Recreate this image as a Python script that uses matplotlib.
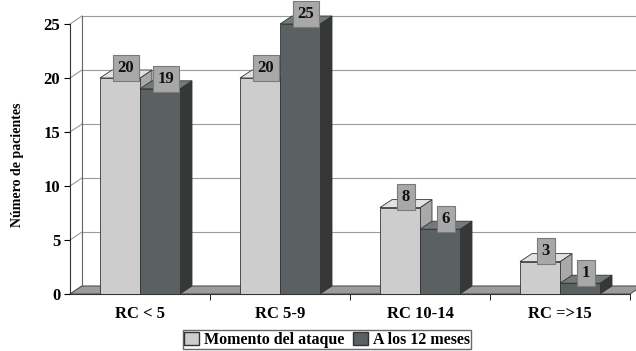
import numpy as np
import matplotlib
matplotlib.use("Agg")
import matplotlib.pyplot as plt
from matplotlib.patches import Patch

categories = ["RC < 5", "RC 5-9", "RC 10-14", "RC =>15"]
momento = [20, 20, 8, 3]
doce_meses = [19, 25, 6, 1]
series_names = ["Momento del ataque", "A los 12 meses"]

plt.rcParams['font.family'] = ['Liberation Serif', 'DejaVu Serif']
plt.rcParams['font.weight'] = 'bold'

W, H = 636, 351
fig = plt.figure(figsize=(W / 100, H / 100), dpi=100)
# axes in pixel terms: left edge = front y axis, bottom = y 0
x0, x1 = 70, 636
yb, yt = 294, 10
ax = fig.add_axes([x0 / W, 1 - yb / H, (x1 - x0) / W, (yb - yt) / H])
px_per_unit = 54 / 5
ax.set_ylim(0, (yb - yt) / px_per_unit)
ax.set_xlim(-0.5, -0.5 + (x1 - x0) / 140)

n = len(categories)
w = 40 / 140
dx = 12 / 140
dy = 8 / px_per_unit
xc = np.arange(n)

light = dict(front='#cdcdcd', top='#e2e2e2', side='#a9a9a9')
dark = dict(front='#5b6062', top='#74797a', side='#363838')

# back wall gridlines and left wall diagonals
yticks = np.arange(0, 26, 5)
for yv in yticks:
    ax.plot([-0.5 + dx, 4.0], [yv + dy, yv + dy], color='#9a9a9a', lw=0.8, zorder=1, clip_on=True)
    ax.plot([-0.5, -0.5 + dx], [yv, yv + dy], color='#9a9a9a', lw=0.8, zorder=1, clip_on=False)
ax.plot([-0.5 + dx, -0.5 + dx], [dy, 25 + dy], color='#666666', lw=0.8, zorder=1, clip_on=False)

# floor
ax.fill([-0.5, n - 0.5, n - 0.5 + dx, -0.5 + dx], [0, 0, dy, dy],
        facecolor='#9c9c9c', edgecolor='#555555', lw=0.8, zorder=2, clip_on=False)


def bar3d(xl, v, c):
    ax.fill([xl + w, xl + w + dx, xl + w + dx, xl + w], [0, dy, v + dy, v],
            facecolor=c['side'], edgecolor='#333333', lw=0.6, zorder=3, clip_on=False)
    ax.fill([xl, xl + w, xl + w + dx, xl + dx], [v, v, v + dy, v + dy],
            facecolor=c['top'], edgecolor='#333333', lw=0.6, zorder=3, clip_on=False)
    ax.bar(xl, v, width=w, align='edge', color=c['front'], edgecolor='#333333',
           lw=0.6, zorder=3)


def label(xl, v):
    ax.text(xl + w / 2 + dx / 2, v + dy + 0.2, str(v), ha='center', va='center',
            fontsize=12, fontweight='bold', color='#111111', zorder=5,
            bbox=dict(boxstyle='square,pad=0.3', facecolor='#a8a8a8',
                      edgecolor='#7a7a7a', lw=0.8))


for i in range(n):
    bar3d(xc[i] - w, momento[i], light)
    bar3d(xc[i], doce_meses[i], dark)
for i in range(n):
    label(xc[i] - w, momento[i])
    label(xc[i], doce_meses[i])

for s in ['top', 'right']:
    ax.spines[s].set_visible(False)
ax.spines['left'].set_bounds(0, 25)
ax.spines['bottom'].set_bounds(-0.5, n - 0.5)
ax.spines['left'].set_color('#333333')
ax.spines['bottom'].set_color('#333333')
ax.set_yticks(yticks)
ax.tick_params(axis='y', direction='out', length=4, labelsize=12, pad=3)
ax.set_xticks(xc)
ax.set_xticklabels(categories, fontsize=12, fontweight='bold')
ax.set_xticks(np.arange(n) + 0.5, minor=True)
ax.tick_params(axis='x', which='major', length=0, pad=9)
ax.tick_params(axis='x', which='minor', direction='out', length=4)
for t in ax.get_yticklabels():
    t.set_fontweight('bold')

fig.text(18 / W, 1 - 165 / H, "Número de pacientes", rotation=90, ha='center',
         va='center', fontsize=10, fontweight='bold')

handles = [Patch(facecolor=light['front'], edgecolor='#333333'),
           Patch(facecolor=dark['front'], edgecolor='#333333')]
fig.legend(handles, series_names, loc='upper center', bbox_to_anchor=(327 / W, 1 - 330 / H),
           ncol=2, frameon=True, fancybox=False, edgecolor='#444444',
           handlelength=0.9, handleheight=0.9, handletextpad=0.3, columnspacing=0.6,
           borderpad=0.1, borderaxespad=0, prop={'weight': 'bold', 'size': 11.5})

fig.savefig('out.png', dpi=100)
